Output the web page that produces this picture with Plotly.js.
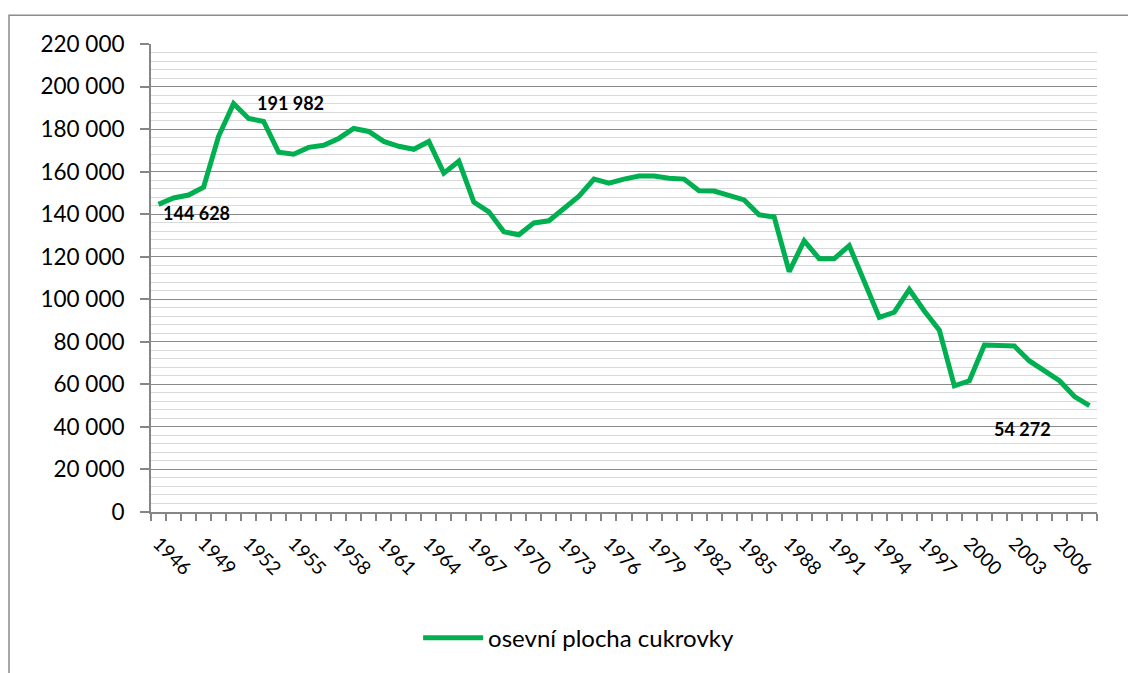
<!DOCTYPE html>
<html>
<head>
<meta charset="utf-8">
<script src="https://cdn.plot.ly/plotly-3.0.1.min.js"></script>
<style>
  html, body { margin: 0; padding: 0; background: #fff; }
  #chart { width: 1128px; height: 673px; }
</style>
</head>
<body>
<div id="chart"></div>
<script>
// ---- data ----
const years = [
  1946, 1947, 1948, 1949, 1950, 1951, 1952, 1953, 1954, 1955,
  1956, 1957, 1958, 1959, 1960, 1961, 1962, 1963, 1964, 1965,
  1966, 1967, 1968, 1969, 1970, 1971, 1972, 1973, 1974, 1975,
  1976, 1977, 1978, 1979, 1980, 1981, 1982, 1983, 1984, 1985,
  1986, 1987, 1988, 1989, 1990, 1991, 1992, 1993, 1994, 1995,
  1996, 1997, 1998, 1999, 2000, 2001, 2002, 2003, 2004, 2005,
  2006, 2007, 2008
];
const sugarBeetArea = [
  144628, 147600, 149000, 152700, 176600, 191982, 185000, 183600, 169100, 168200,
  171400, 172400, 175600, 180300, 178900, 174200, 171900, 170500, 174200, 159300,
  164900, 145700, 141100, 131700, 130300, 135900, 136900, 142500, 148500, 156500,
  154600, 156500, 157900, 157900, 156900, 156500, 151000, 150900, 149000, 146700,
  139700, 138700, 113000, 127500, 119100, 119100, 125200, 108000, 91500, 93900,
  104600, 94500, 85500, 59300, 61700, 78500, 78200, 78000, 71000, 66300,
  61700, 54272, 50000
];
const seriesName = "osevní plocha cukrovky";
const labelledYears = [1946, 1951, 2007];
const yTickValues = [0, 20000, 40000, 60000, 80000, 100000, 120000, 140000, 160000, 180000, 200000, 220000];

// ---- helpers ----
function fmt(v) {
  return String(v).replace(/\B(?=(\d{3})+(?!\d))/g, " ");
}

const W = 1128, H = 673;
const M = { l: 151, r: 31, t: 44, b: 158 };
const PW = W - M.l - M.r, PH = H - M.t - M.b;

const xTickValues = years.filter((y, i) => i % 3 === 0);

const labelOffsets = [
  { xshift: 2, yshift: -9, xanchor: "left" },
  { xshift: 21, yshift: 1, xanchor: "left" },
  { xshift: -52, yshift: -32, xanchor: "center" }
];

const annotations = labelledYears.map((yr, k) => {
  const idx = years.indexOf(yr);
  return {
    x: yr, y: sugarBeetArea[idx], xref: "x", yref: "y",
    text: "<b>" + fmt(sugarBeetArea[idx]) + "</b>",
    showarrow: false,
    xanchor: labelOffsets[k].xanchor, yanchor: "middle",
    xshift: labelOffsets[k].xshift, yshift: labelOffsets[k].yshift,
    font: { family: "Lato, 'Open Sans', sans-serif", size: 18, color: "#000" }
  };
});

const trace = {
  type: "scatter", mode: "lines",
  x: years, y: sugarBeetArea, name: seriesName,
  line: { color: "#00B050", width: 5 },
  showlegend: true
};

const layout = {
  width: W, height: H,
  margin: M,
  paper_bgcolor: "#fff", plot_bgcolor: "#fff",
  font: { family: "Lato, 'Open Sans', sans-serif", size: 22, color: "#000" },
  showlegend: true,
  legend: {
    orientation: "h", x: 0.452, xanchor: "center", y: (M.b - (H - 642)) / -PH * -1 * -1, yanchor: "middle",
    font: { size: 24, color: "#000" }, itemwidth: 60, bgcolor: "rgba(0,0,0,0)"
  },
  xaxis: {
    type: "linear",
    range: [years[0] - 0.5, years[years.length - 1] + 0.5],
    tickmode: "array", tickvals: xTickValues, ticktext: xTickValues.map(String),
    tickangle: 45, ticks: "", ticklen: 0,
    showgrid: false, zeroline: false,
    showline: true, linecolor: "#868686", linewidth: 2,
    tickfont: { size: 19 },
    ticklabelstandoff: 11,
    minor: { tick0: years[0] - 0.5, dtick: 1, ticks: "outside", ticklen: 7, tickcolor: "#868686", tickwidth: 2, showgrid: false }
  },
  yaxis: {
    range: [0, 220000],
    tickmode: "array", tickvals: yTickValues, ticktext: yTickValues.map(fmt),
    ticks: "outside", ticklen: 9, tickcolor: "#868686", tickwidth: 2,
    showgrid: true, gridcolor: "#8a8a8a", gridwidth: 1,
    zeroline: false,
    showline: true, linecolor: "#868686", linewidth: 2,
    tickfont: { size: 22.5 },
    ticklabelstandoff: 11,
    minor: { dtick: 4000, tick0: 0, showgrid: true, gridcolor: "#d9d9d9", gridwidth: 1, ticks: "" }
  },
  annotations: annotations,
  shapes: [
    {
      type: "rect", xref: "paper", yref: "paper",
      x0: (9 - M.l) / PW, x1: (W + 20 - M.l) / PW,
      y0: -(M.b + 20) / PH, y1: (H - M.b - 15) / PH,
      line: { color: "#8c8c8c", width: 1.5 }, fillcolor: "rgba(0,0,0,0)", layer: "below"
    }
  ]
};
// legend vertical centre at pixel y = 642
layout.legend.y = -((642 - (H - M.b)) / PH);

Plotly.newPlot("chart", [trace], layout, { displayModeBar: false, staticPlot: true });
</script>
</body>
</html>
